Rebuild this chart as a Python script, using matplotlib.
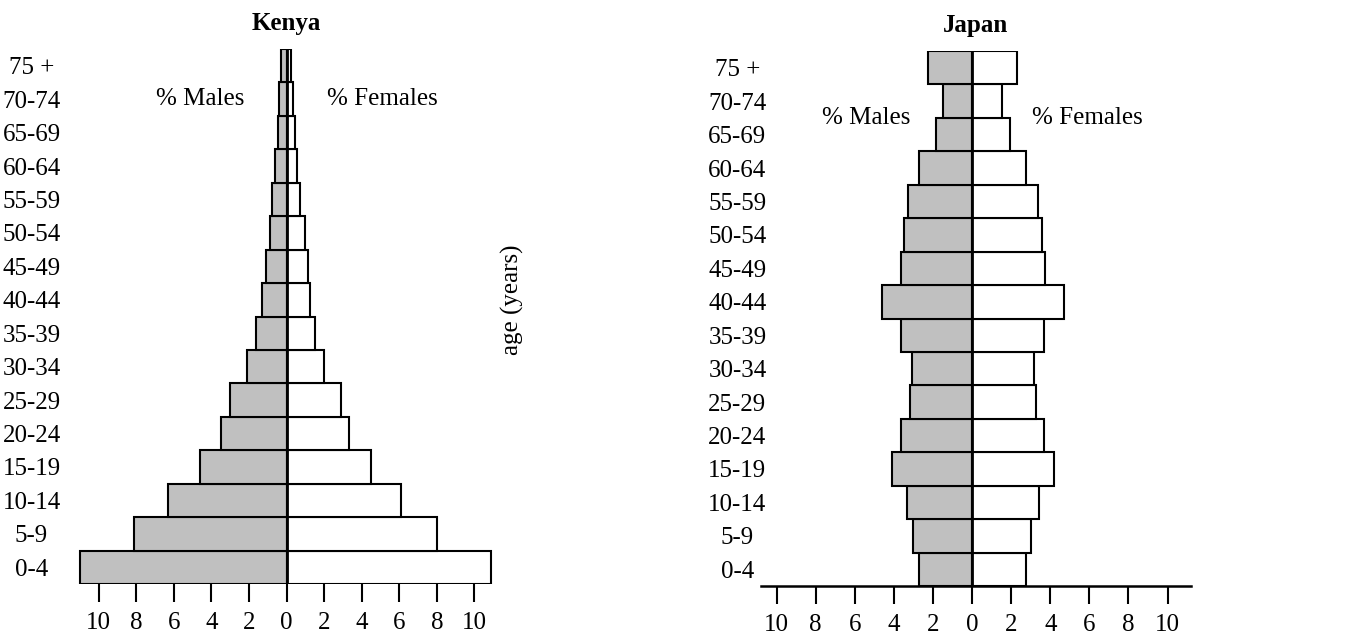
import matplotlib
matplotlib.use("Agg")
import matplotlib.pyplot as plt

plt.rcParams["font.family"] = ["Liberation Serif", "DejaVu Serif"]

# age groups, bottom to top
ages = ["0-4", "5-9", "10-14", "15-19", "20-24", "25-29", "30-34", "35-39",
        "40-44", "45-49", "50-54", "55-59", "60-64", "65-69", "70-74", "75 +"]

kenya_male = [11.0, 8.1, 6.3, 4.6, 3.5, 3.0, 2.1, 1.6,
              1.3, 1.1, 0.9, 0.75, 0.6, 0.45, 0.4, 0.3]
kenya_female = [10.9, 8.0, 6.1, 4.5, 3.3, 2.9, 2.0, 1.5,
                1.25, 1.15, 1.0, 0.7, 0.55, 0.45, 0.35, 0.25]

japan_male = [2.7, 3.0, 3.35, 4.1, 3.65, 3.2, 3.05, 3.65,
              4.6, 3.65, 3.5, 3.3, 2.7, 1.85, 1.5, 2.25]
japan_female = [2.75, 3.0, 3.4, 4.2, 3.7, 3.25, 3.15, 3.7,
                4.7, 3.75, 3.6, 3.35, 2.75, 1.95, 1.55, 2.3]

xticks = [-10, -8, -6, -4, -2, 0, 2, 4, 6, 8, 10]
xticklabels = ["10", "8", "6", "4", "2", "0", "2", "4", "6", "8", "10"]

FS = 18
W, H = 1348, 640
fig = plt.figure(figsize=(W / 100, H / 100), dpi=100)


def pyramid(ax, male, female, title, xlim, label_pad, show_axis_line):
    y = list(range(len(ages)))
    ax.barh(y, [-m for m in male], height=1.0, color="#c0c0c0",
            edgecolor="black", linewidth=1.5)
    ax.barh(y, female, height=1.0, color="white",
            edgecolor="black", linewidth=1.5)
    ax.axvline(0, color="black", linewidth=2)
    ax.set_xlim(*xlim)
    ax.set_ylim(-0.5, len(ages) - 0.5)
    ax.set_xticks(xticks)
    ax.set_xticklabels(xticklabels)
    ax.set_yticks(y)
    ax.set_yticklabels(ages, ha="center")
    ax.tick_params(axis="y", length=0, pad=label_pad, labelsize=FS)
    ax.tick_params(axis="x", direction="out", length=13, width=1.5,
                   pad=7, labelsize=FS)
    for s in ["top", "right", "left"]:
        ax.spines[s].set_visible(False)
    ax.spines["bottom"].set_visible(show_axis_line)
    ax.spines["bottom"].set_linewidth(1.8)
    ax.set_title(title, fontweight="bold", fontsize=FS, pad=14)


# Kenya
ax1 = fig.add_axes([76 / W, 56 / H, 421 / W, 535 / H])
pyramid(ax1, kenya_male, kenya_female, "Kenya", (-11.2, 11.2), 32, False)
ax1.text(-4.6, 14.0, "% Males", fontsize=FS, ha="center", va="center")
ax1.text(5.1, 14.0, "% Females", fontsize=FS, ha="center", va="center")

# Japan
ax2 = fig.add_axes([761 / W, 54 / H, 430 / W, 535 / H])
pyramid(ax2, japan_male, japan_female, "Japan", (-10.8, 11.2), 17, True)
ax2.text(-5.4, 13.5, "% Males", fontsize=FS, ha="center", va="center")
ax2.text(5.9, 13.5, "% Females", fontsize=FS, ha="center", va="center")

fig.text(512 / W, 1 - 300 / H, "age (years)", rotation=90, fontsize=FS,
         ha="center", va="center")

fig.savefig("out.png", dpi=100)
